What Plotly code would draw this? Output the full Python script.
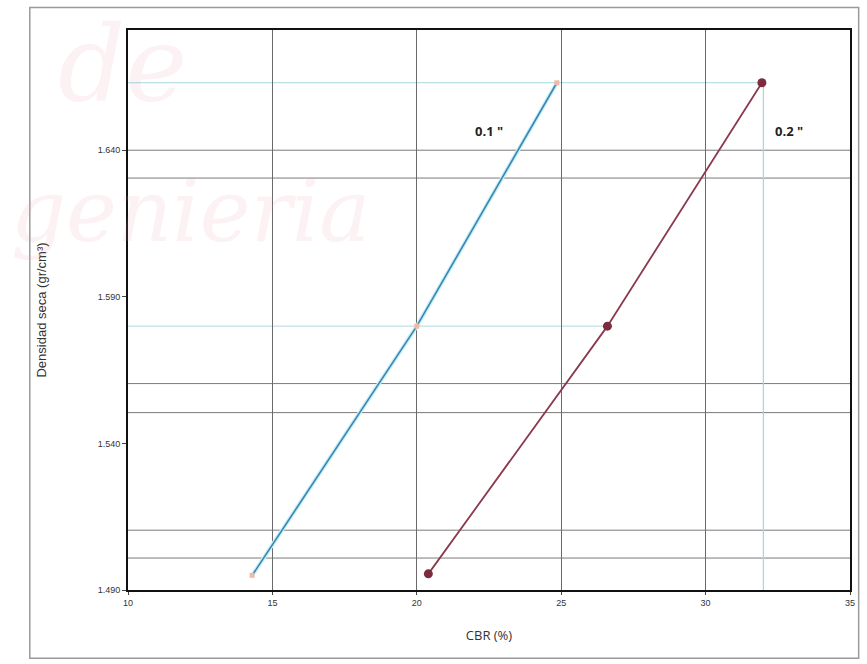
import plotly.graph_objects as go

# ---- data ----
cbr_01 = [14.3, 20.0, 24.85]
dens_01 = [1.495, 1.580, 1.663]
cbr_02 = [20.4, 26.6, 31.95]
dens_02 = [1.4955, 1.580, 1.663]

x_ticks = [10, 15, 20, 25, 30, 35]
y_ticks = [1.490, 1.540, 1.590, 1.640]
y_tick_labels = ["1.490", "1.540", "1.590", "1.640"]

# horizontal reference lines (dark)
ref_levels = [1.640, 1.6305, 1.5604, 1.5505, 1.5104, 1.5009]
# design point lines (light cyan)
top_level = 1.663
mid_level = 1.580
cbr_design = 32.0
cbr_mid = 26.6
x_min, x_max = 10, 35
y_min, y_max = 1.490, 1.681

fig = go.Figure()

fig.add_trace(go.Scatter(
    x=cbr_01, y=dens_01, mode="lines", name='0.1 "',
    line=dict(color="#c4eef8", width=4),
    hoverinfo="skip", showlegend=False))
fig.add_trace(go.Scatter(
    x=cbr_01, y=dens_01, mode="lines+markers", name='0.1 "',
    line=dict(color="#3b86b0", width=1.6),
    marker=dict(symbol="square", size=5, color="#efb9a6"),
    showlegend=False))
fig.add_trace(go.Scatter(
    x=cbr_02, y=dens_02, mode="lines+markers", name='0.2 "',
    line=dict(color="#8a3a4c", width=1.8),
    marker=dict(symbol="circle", size=9, color="#7d2b3f"),
    showlegend=False))

shapes = []
for lv in ref_levels:
    shapes.append(dict(type="line", xref="x", yref="y", x0=x_min, x1=x_max,
                       y0=lv, y1=lv, line=dict(color="#7a7a7a", width=1), layer="below"))
shapes.append(dict(type="line", xref="x", yref="y", x0=x_min, x1=cbr_design,
                   y0=top_level, y1=top_level, line=dict(color="#a6d6e0", width=1.2), layer="below"))
shapes.append(dict(type="line", xref="x", yref="y", x0=x_min, x1=cbr_mid,
                   y0=mid_level, y1=mid_level, line=dict(color="#bfe1e8", width=1.2), layer="below"))
shapes.append(dict(type="line", xref="x", yref="y", x0=cbr_design, x1=cbr_design,
                   y0=y_min, y1=top_level, line=dict(color="#a6d6e0", width=1.2), layer="below"))
# outer page border
shapes.append(dict(type="rect", xref="paper", yref="paper", x0=-0.136, x1=1.012,
                   y0=-0.122, y1=1.04, line=dict(color="#9a9a9a", width=1.5), layer="below"))

annotations = [
    dict(x=22.5, y=1.6465, xref="x", yref="y", text='<b>0.1 "</b>', showarrow=False,
         font=dict(family="Open Sans, DejaVu Sans", size=13, color="#222")),
    dict(x=32.9, y=1.6465, xref="x", yref="y", text='<b>0.2 "</b>', showarrow=False,
         font=dict(family="Open Sans, DejaVu Sans", size=13, color="#222")),
    # faint watermark
    dict(x=-0.1, y=1.05, xref="paper", yref="paper", text="<i>de</i>", showarrow=False,
         xanchor="left", yanchor="top",
         font=dict(family="DejaVu Serif", size=105, color="rgba(235,150,160,0.13)")),
    dict(x=-0.165, y=0.77, xref="paper", yref="paper", text="<i>genieria</i>", showarrow=False,
         xanchor="left", yanchor="top",
         font=dict(family="DejaVu Serif", size=86, color="rgba(235,150,160,0.13)")),
]

fig.update_layout(
    width=867, height=664,
    margin=dict(l=128, r=15, t=30, b=74),
    paper_bgcolor="white", plot_bgcolor="rgba(0,0,0,0)",
    shapes=shapes, annotations=annotations,
    font=dict(family="Liberation Sans, Arial", color="#333"),
)
fig.update_xaxes(
    range=[x_min, x_max], tickvals=x_ticks, showgrid=True, gridcolor="#6a6a6a", gridwidth=1,
    showline=True, linecolor="#111", linewidth=2, mirror=True, zeroline=False,
    ticks="outside", ticklen=3, tickcolor="#444", tickfont=dict(size=9, color="#333"),
    title=dict(text="CBR (%)", font=dict(family="Open Sans, Liberation Sans", size=13, color="#333"),
               standoff=24),
)
fig.update_yaxes(
    range=[y_min, y_max], tickvals=y_ticks, ticktext=y_tick_labels, showgrid=False,
    showline=True, linecolor="#111", linewidth=2, mirror=True, zeroline=False,
    ticks="outside", ticklen=4, tickcolor="#444", tickfont=dict(size=9, color="#333"),
    title=dict(text="Densidad seca (gr/cm³)", font=dict(family="Liberation Sans, Arial", size=13, color="#333"),
               standoff=48),
)

fig.write_html("out.html")
